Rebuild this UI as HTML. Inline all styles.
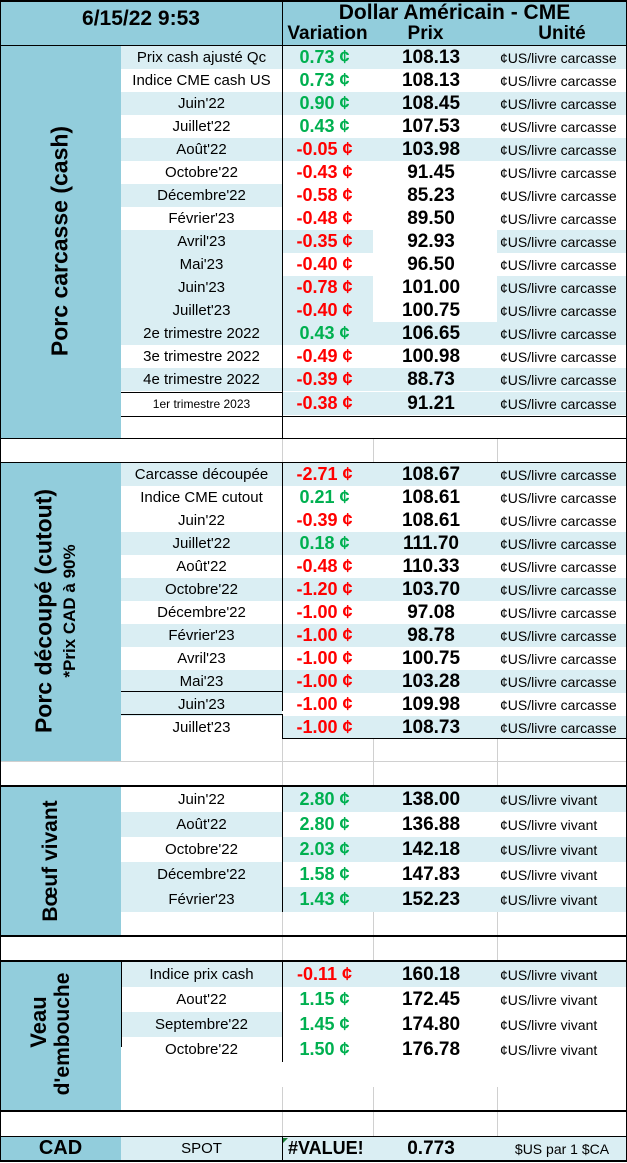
<!DOCTYPE html><html><head><meta charset="utf-8"><style>
*{margin:0;padding:0;box-sizing:border-box}
body{width:627px;height:1163px;background:#fff;position:relative;overflow:hidden;font-family:"Liberation Sans",Arial,sans-serif;color:#000}
.a{position:absolute}
.hb{background:#92CDDC}
.r{position:absolute;left:121px;width:505px;height:23px;display:flex;align-items:center;font-size:15px}
.r>div{height:100%;display:flex;align-items:center;white-space:nowrap}
.b{width:161px;justify-content:center}
.c{width:91px;justify-content:center;font-weight:bold;font-size:18px;padding-right:6px}
.d{width:124px;justify-content:center;font-weight:bold;font-size:19px;padding-right:8px}
.e{width:129px;padding-left:3px;font-size:14px}
.l{background:#DAEEF3}
.g{color:#00B050}.x{color:#FF0000}
.t{height:25px}
.vl{position:absolute;transform:translate(-50%,-50%) rotate(-90deg);white-space:nowrap;font-weight:bold;text-align:center}
.ln{position:absolute;background:#000}
.gl{position:absolute;background:#d0d0d0}
</style></head><body>
<div class="a hb" style="left:0;top:0;width:627px;height:46px"></div>
<div class="a" style="left:0;top:7px;width:282px;text-align:center;font-weight:bold;font-size:21px">6/15/22 9:53</div>
<div class="a" style="left:282px;top:1px;width:345px;text-align:center;font-weight:bold;font-size:21px">Dollar Américain - CME</div>
<div class="a" style="left:282px;top:23px;width:91px;text-align:center;font-weight:bold;font-size:19px">Variation</div>
<div class="a" style="left:373px;top:23px;width:105px;text-align:center;font-weight:bold;font-size:19px">Prix</div>
<div class="a" style="left:497px;top:23px;width:130px;text-align:center;font-weight:bold;font-size:19px">Unité</div>

<div class="a hb" style="left:0;top:46px;width:121px;height:393px"></div>
<div class="vl" style="left:60px;top:241px;font-size:23px">Porc carcasse (cash)</div>
<div class="r" style="top:46px"><div class="b l">Prix cash ajusté Qc</div><div class="c l g">0.73 ¢</div><div class="d l">108.13</div><div class="e l">¢US/livre carcasse</div></div>
<div class="r" style="top:69px"><div class="b">Indice CME cash US</div><div class="c g">0.73 ¢</div><div class="d">108.13</div><div class="e">¢US/livre carcasse</div></div>
<div class="r" style="top:92px"><div class="b l">Juin'22</div><div class="c l g">0.90 ¢</div><div class="d l">108.45</div><div class="e l">¢US/livre carcasse</div></div>
<div class="r" style="top:115px"><div class="b">Juillet'22</div><div class="c g">0.43 ¢</div><div class="d">107.53</div><div class="e">¢US/livre carcasse</div></div>
<div class="r" style="top:138px"><div class="b l">Août'22</div><div class="c l x">-0.05 ¢</div><div class="d l">103.98</div><div class="e l">¢US/livre carcasse</div></div>
<div class="r" style="top:161px"><div class="b">Octobre'22</div><div class="c x">-0.43 ¢</div><div class="d">91.45</div><div class="e">¢US/livre carcasse</div></div>
<div class="r" style="top:184px"><div class="b l">Décembre'22</div><div class="c x">-0.58 ¢</div><div class="d">85.23</div><div class="e">¢US/livre carcasse</div></div>
<div class="r" style="top:207px"><div class="b">Février'23</div><div class="c x">-0.48 ¢</div><div class="d">89.50</div><div class="e">¢US/livre carcasse</div></div>
<div class="r" style="top:230px"><div class="b l">Avril'23</div><div class="c l x">-0.35 ¢</div><div class="d">92.93</div><div class="e l">¢US/livre carcasse</div></div>
<div class="r" style="top:253px"><div class="b l">Mai'23</div><div class="c x">-0.40 ¢</div><div class="d">96.50</div><div class="e">¢US/livre carcasse</div></div>
<div class="r" style="top:276px"><div class="b l">Juin'23</div><div class="c l x">-0.78 ¢</div><div class="d">101.00</div><div class="e l">¢US/livre carcasse</div></div>
<div class="r" style="top:299px"><div class="b l">Juillet'23</div><div class="c l x">-0.40 ¢</div><div class="d">100.75</div><div class="e l">¢US/livre carcasse</div></div>
<div class="r" style="top:322px"><div class="b l">2e trimestre 2022</div><div class="c l g">0.43 ¢</div><div class="d l">106.65</div><div class="e l">¢US/livre carcasse</div></div>
<div class="r" style="top:345px"><div class="b">3e trimestre 2022</div><div class="c x">-0.49 ¢</div><div class="d">100.98</div><div class="e">¢US/livre carcasse</div></div>
<div class="r" style="top:368px"><div class="b l">4e trimestre 2022</div><div class="c l x">-0.39 ¢</div><div class="d l">88.73</div><div class="e l">¢US/livre carcasse</div></div>
<div class="r" style="top:392px"><div class="b" style="font-size:12px">1er trimestre 2023</div><div class="c l x">-0.38 ¢</div><div class="d l">91.21</div><div class="e l">¢US/livre carcasse</div></div>
<div class="ln" style="left:121px;top:392px;width:161px;height:1px"></div>
<div class="ln" style="left:121px;top:416px;width:506px;height:1px"></div>
<div class="ln" style="left:282px;top:46px;width:1px;height:393px"></div>

<div class="a hb" style="left:0;top:462px;width:121px;height:300px"></div>
<div class="vl" style="left:44px;top:611px;font-size:23px">Porc découpé (cutout)</div>
<div class="vl" style="left:70px;top:611px;font-size:17px">*Prix CAD à 90%</div>
<div class="r" style="top:463px"><div class="b l">Carcasse découpée</div><div class="c l x">-2.71 ¢</div><div class="d l">108.67</div><div class="e l">¢US/livre carcasse</div></div>
<div class="r" style="top:486px"><div class="b">Indice CME cutout</div><div class="c g">0.21 ¢</div><div class="d">108.61</div><div class="e">¢US/livre carcasse</div></div>
<div class="r" style="top:509px"><div class="b">Juin'22</div><div class="c x">-0.39 ¢</div><div class="d">108.61</div><div class="e">¢US/livre carcasse</div></div>
<div class="r" style="top:532px"><div class="b l">Juillet'22</div><div class="c l g">0.18 ¢</div><div class="d l">111.70</div><div class="e l">¢US/livre carcasse</div></div>
<div class="r" style="top:555px"><div class="b">Août'22</div><div class="c x">-0.48 ¢</div><div class="d">110.33</div><div class="e">¢US/livre carcasse</div></div>
<div class="r" style="top:578px"><div class="b l">Octobre'22</div><div class="c l x">-1.20 ¢</div><div class="d l">103.70</div><div class="e l">¢US/livre carcasse</div></div>
<div class="r" style="top:601px"><div class="b">Décembre'22</div><div class="c x">-1.00 ¢</div><div class="d">97.08</div><div class="e">¢US/livre carcasse</div></div>
<div class="r" style="top:624px"><div class="b l">Février'23</div><div class="c l x">-1.00 ¢</div><div class="d l">98.78</div><div class="e l">¢US/livre carcasse</div></div>
<div class="r" style="top:647px"><div class="b">Avril'23</div><div class="c x">-1.00 ¢</div><div class="d">100.75</div><div class="e">¢US/livre carcasse</div></div>
<div class="r" style="top:670px"><div class="b l">Mai'23</div><div class="c l x">-1.00 ¢</div><div class="d l">103.28</div><div class="e l">¢US/livre carcasse</div></div>
<div class="r" style="top:693px"><div class="b l">Juin'23</div><div class="c x">-1.00 ¢</div><div class="d">109.98</div><div class="e">¢US/livre carcasse</div></div>
<div class="r" style="top:716px"><div class="b">Juillet'23</div><div class="c l x">-1.00 ¢</div><div class="d l">108.73</div><div class="e l">¢US/livre carcasse</div></div>
<div class="ln" style="left:282px;top:463px;width:1px;height:248px"></div>
<div class="ln" style="left:121px;top:691px;width:161px;height:1px"></div>
<div class="ln" style="left:121px;top:714px;width:161px;height:1px"></div>
<div class="ln" style="left:282px;top:714px;width:1px;height:25px"></div>
<div class="ln" style="left:282px;top:738px;width:345px;height:1px"></div>

<div class="a hb" style="left:0;top:786px;width:121px;height:150px"></div>
<div class="vl" style="left:51px;top:861px;font-size:21px">Bœuf vivant</div>
<div class="r t" style="top:787px"><div class="b">Juin'22</div><div class="c l g">2.80 ¢</div><div class="d l">138.00</div><div class="e l">¢US/livre vivant</div></div>
<div class="r t" style="top:812px"><div class="b l">Août'22</div><div class="c g">2.80 ¢</div><div class="d">136.88</div><div class="e">¢US/livre vivant</div></div>
<div class="r t" style="top:837px"><div class="b">Octobre'22</div><div class="c l g">2.03 ¢</div><div class="d l">142.18</div><div class="e l">¢US/livre vivant</div></div>
<div class="r t" style="top:862px"><div class="b l">Décembre'22</div><div class="c g">1.58 ¢</div><div class="d">147.83</div><div class="e">¢US/livre vivant</div></div>
<div class="r t" style="top:887px"><div class="b l">Février'23</div><div class="c l g">1.43 ¢</div><div class="d l">152.23</div><div class="e l">¢US/livre vivant</div></div>
<div class="ln" style="left:282px;top:786px;width:1px;height:126px"></div>

<div class="a hb" style="left:0;top:961px;width:121px;height:150px"></div>
<div class="vl" style="left:39px;top:1022px;font-size:22px">Veau</div>
<div class="vl" style="left:63px;top:1034px;font-size:21px">d'embouche</div>
<div class="r t" style="top:962px"><div class="b l">Indice prix cash</div><div class="c l x">-0.11 ¢</div><div class="d l">160.18</div><div class="e l">¢US/livre vivant</div></div>
<div class="r t" style="top:987px"><div class="b">Aout'22</div><div class="c g">1.15 ¢</div><div class="d">172.45</div><div class="e">¢US/livre vivant</div></div>
<div class="r t" style="top:1012px"><div class="b l">Septembre'22</div><div class="c g">1.45 ¢</div><div class="d">174.80</div><div class="e">¢US/livre vivant</div></div>
<div class="r t" style="top:1037px"><div class="b">Octobre'22</div><div class="c g">1.50 ¢</div><div class="d">176.78</div><div class="e">¢US/livre vivant</div></div>
<div class="ln" style="left:121px;top:961px;width:1px;height:86px"></div>
<div class="ln" style="left:282px;top:961px;width:1px;height:101px"></div>

<div class="gl" style="left:282px;top:439px;width:1px;height:24px"></div>
<div class="gl" style="left:373px;top:439px;width:1px;height:24px"></div>
<div class="gl" style="left:497px;top:439px;width:1px;height:24px"></div>
<div class="gl" style="left:282px;top:739px;width:1px;height:47px"></div>
<div class="gl" style="left:373px;top:739px;width:1px;height:47px"></div>
<div class="gl" style="left:497px;top:739px;width:1px;height:47px"></div>
<div class="gl" style="left:0;top:761px;width:627px;height:1px"></div>
<div class="gl" style="left:282px;top:912px;width:1px;height:49px"></div>
<div class="gl" style="left:373px;top:912px;width:1px;height:49px"></div>
<div class="gl" style="left:497px;top:912px;width:1px;height:49px"></div>
<div class="gl" style="left:282px;top:1087px;width:1px;height:50px"></div>
<div class="gl" style="left:373px;top:1087px;width:1px;height:50px"></div>
<div class="gl" style="left:497px;top:1087px;width:1px;height:50px"></div>

<div class="a hb" style="left:0;top:1137px;width:121px;height:24px"></div>
<div class="a l" style="left:121px;top:1137px;width:506px;height:24px"></div>
<div class="a" style="left:0;top:1137px;width:121px;text-align:center;font-weight:bold;font-size:20px">CAD</div>
<div class="a" style="left:121px;top:1140px;width:161px;text-align:center;font-size:15px">SPOT</div>
<div class="a" style="left:288px;top:1138px;font-weight:bold;font-size:18px">#VALUE!</div>
<div class="a" style="left:373px;top:1138px;width:116px;text-align:center;font-weight:bold;font-size:19px">0.773</div>
<div class="a" style="left:497px;top:1141px;width:130px;text-align:center;font-size:14px">$US par 1 $CA</div>
<div class="a" style="left:283px;top:1138px;width:0;height:0;border-top:5px solid #1a7f37;border-right:5px solid transparent"></div>
<div class="ln" style="left:282px;top:1137px;width:1px;height:24px"></div>

<div class="ln" style="left:0;top:0;width:627px;height:2px"></div>
<div class="ln" style="left:0;top:45px;width:627px;height:1px"></div>
<div class="ln" style="left:282px;top:0;width:1px;height:46px"></div>
<div class="ln" style="left:0;top:438px;width:627px;height:1px"></div>
<div class="ln" style="left:0;top:462px;width:627px;height:1px"></div>
<div class="ln" style="left:0;top:785px;width:627px;height:2px"></div>
<div class="ln" style="left:0;top:935px;width:627px;height:2px"></div>
<div class="ln" style="left:0;top:960px;width:627px;height:2px"></div>
<div class="ln" style="left:0;top:1110px;width:627px;height:2px"></div>
<div class="ln" style="left:0;top:1136px;width:627px;height:1px"></div>
<div class="ln" style="left:0;top:1160px;width:627px;height:2px"></div>
<div class="ln" style="left:0;top:0;width:1px;height:1162px"></div>
<div class="ln" style="left:626px;top:0;width:1px;height:1162px"></div>
</body></html>
